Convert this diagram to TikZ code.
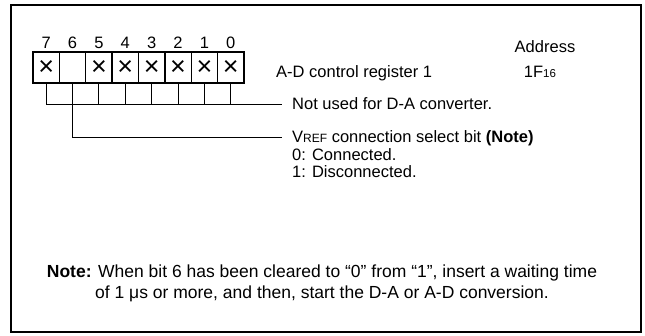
\documentclass[tikz,border=0pt]{standalone}
\usepackage{fontspec}
\setmainfont{Liberation Sans}
\usetikzlibrary{positioning}
\tikzset{
  lbl/.style={font=\fontsize{16.5}{19}\selectfont, inner sep=0pt, text height=11.8pt, text depth=0pt},
  bitcell/.style={draw, line width=1.4pt, minimum width=26.375pt, minimum height=31pt, inner sep=0pt, font=\fontsize{27}{30}\selectfont},
  leader/.style={line width=0.9pt},
}
\begin{document}
\begin{tikzpicture}[x=1pt,y=-1pt]
\useasboundingbox (0,0) rectangle (645,336);
% Outer frame
\draw[line width=2pt] (11,5) rectangle (641,332);

% Bit cells and bit numbers
\foreach \b/\m [count=\i from 0] in {7/×,6/,5/×,4/×,3/×,2/×,1/×,0/×} {
  \node[bitcell] (c\b) at ({33+26.375*(\i+0.5)},67.5) {\m};
  \node[lbl] (n\b) at ({33+26.375*(\i+0.5)},43) {\b};
}

% Register name and address
\node[lbl, anchor=west] (reg) at (276,72) {A-D control register 1};
\node[lbl] (addr) at (545,47) {Address};
\node[lbl] (addrval) at (540,72) {1F{\fontsize{11.5}{13}\selectfont 16}};

% Bit descriptions
\node[lbl, anchor=west] (notused) at (292,104) {Not used for D-A converter.};
\node[lbl, anchor=west] (vref) at (292,137) {V{\fontsize{12}{14}\selectfont REF} connection select bit \textbf{(Note)}};
\node[lbl, anchor=west] (conn) at (292,155) {0: Connected.};
\node[lbl, anchor=west] (disc) at (292,172) {1: Disconnected.};

% Leader lines
\foreach \b in {7,5,4,3,2,1,0}
  \draw[leader] (c\b.south) -- (c\b.south |- notused.west);
\draw[leader] (c7.south |- notused.west) -- ([xshift=-10pt]notused.west);
\draw[leader] (c6.south) |- ([xshift=-10pt]vref.west);

% Note
\node[font=\fontsize{17.5}{21}\selectfont, inner sep=0pt, align=center] (note) at (322,283)
  {\textbf{Note:} When bit 6 has been cleared to “0” from “1”, insert a waiting time\\
   of 1 μs or more, and then, start the D-A or A-D conversion.};
\end{tikzpicture}
\end{document}
